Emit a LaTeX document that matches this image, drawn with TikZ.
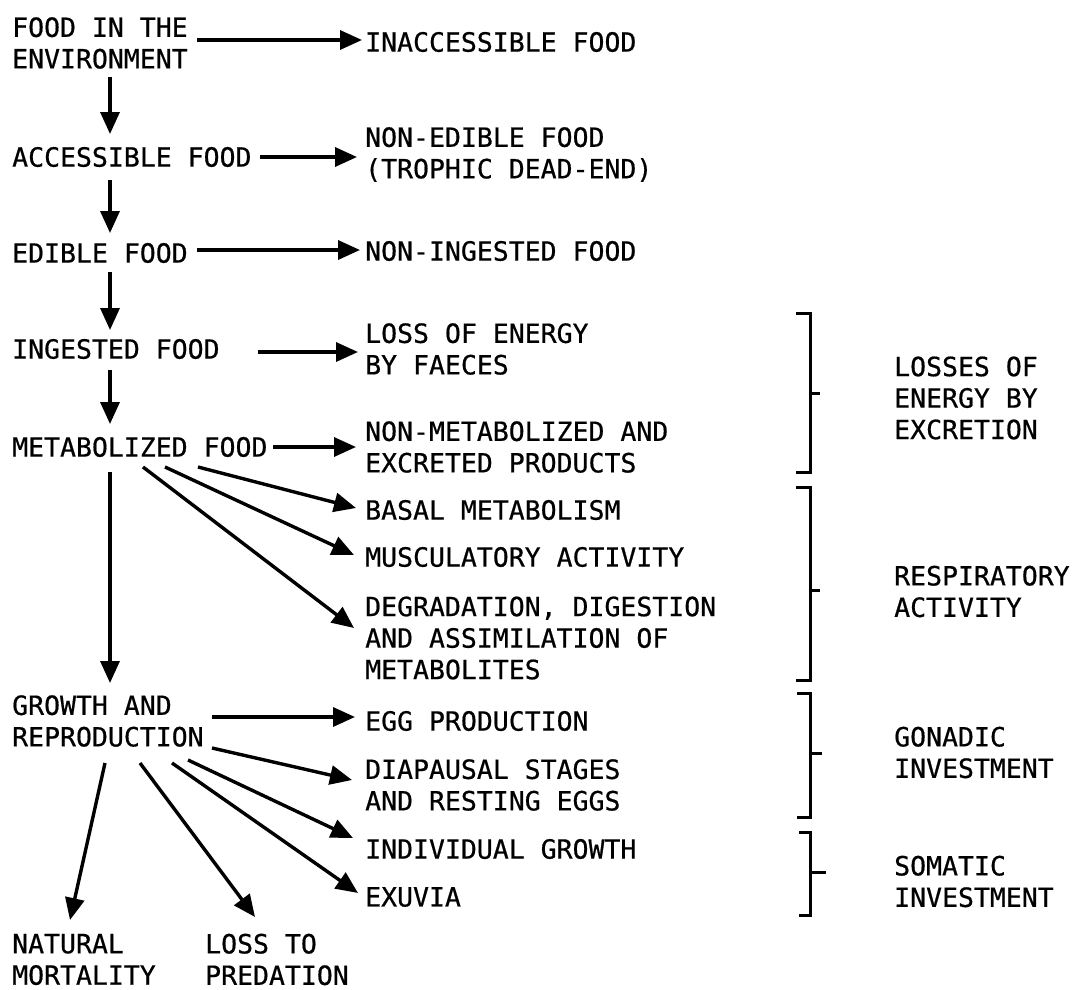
\documentclass[tikz,border=0pt]{standalone}
\usepackage{fontspec}
\newfontfamily\typew[FakeBold=0.6]{DejaVu Sans Mono}
\usetikzlibrary{arrows.meta,calc}
\begin{document}
\begin{tikzpicture}[x=1pt,y=-1pt,
  lbl/.style={anchor=west,inner sep=0pt,align=left,font=\typew\fontsize{26.5}{31.5}\selectfont},
  arr/.style={line width=3.4pt,-{Triangle[length=22pt,width=19pt]}},
  brk/.style={line width=3pt,line cap=butt,line join=miter}]
\useasboundingbox (0,0) rectangle (1074,990);
% left column
\node[lbl] (food) at (12,43) {FOOD IN THE\\ENVIRONMENT};
\node[lbl] (acc) at (12,157) {ACCESSIBLE FOOD};
\node[lbl] (edible) at (12,253) {EDIBLE FOOD};
\node[lbl] (ing) at (12,349) {INGESTED FOOD};
\node[lbl] (met) at (12,447) {METABOLIZED FOOD};
\node[lbl] (grow) at (12,721) {GROWTH AND\\REPRODUCTION};
\node[lbl] (nat) at (12,959.5) {NATURAL\\MORTALITY};
\node[lbl] (pred) at (205,959.5) {LOSS TO\\PREDATION};
% middle column
\node[lbl] (inacc) at (365,42) {INACCESSIBLE FOOD};
\node[lbl] (nonedible) at (365,154.5) {NON-EDIBLE FOOD\\(TROPHIC DEAD-END)};
\node[lbl] (noning) at (365,251) {NON-INGESTED FOOD};
\node[lbl] (faeces) at (365,349) {LOSS OF ENERGY\\BY FAECES};
\node[lbl] (nonmet) at (365,447) {NON-METABOLIZED AND\\EXCRETED PRODUCTS};
\node[lbl] (basal) at (365,510) {BASAL METABOLISM};
\node[lbl] (musc) at (365,557) {MUSCULATORY ACTIVITY};
\node[lbl] (degrad) at (365,638) {DEGRADATION, DIGESTION\\AND ASSIMILATION OF\\METABOLITES};
\node[lbl] (egg) at (365,721) {EGG PRODUCTION};
\node[lbl] (diap) at (365,785) {DIAPAUSAL STAGES\\AND RESTING EGGS};
\node[lbl] (indiv) at (365,849) {INDIVIDUAL GROWTH};
\node[lbl] (exuv) at (365,897) {EXUVIA};
% right column
\node[lbl] (losses) at (894,398) {LOSSES OF\\ENERGY BY\\EXCRETION};
\node[lbl] (resp) at (894,591.5) {RESPIRATORY\\ACTIVITY};
\node[lbl] (gonad) at (894,752.5) {GONADIC\\INVESTMENT};
\node[lbl] (somat) at (894,881.5) {SOMATIC\\INVESTMENT};
% arrows
\draw[arr] ($(food.west)+(185,-3)$) -- ($(inacc.west)+(-3,-2)$);
\draw[arr] ($(food.west)+(98,34)$) -- ($(acc.west)+(98,-23)$);
\draw[arr] ($(acc.west)+(248,0)$) -- ($(nonedible.west)+(-8,2.5)$);
\draw[arr] ($(acc.west)+(98,23)$) -- ($(edible.west)+(98,-20)$);
\draw[arr] ($(edible.west)+(185,-3)$) -- ($(noning.west)+(-5,-1)$);
\draw[arr] ($(edible.west)+(98,19)$) -- ($(ing.west)+(98,-19)$);
\draw[arr] ($(ing.west)+(246,3)$) -- ($(faeces.west)+(-7,3)$);
\draw[arr] ($(ing.west)+(98,21)$) -- ($(met.west)+(98,-23)$);
\draw[arr] ($(met.west)+(261,0)$) -- ($(nonmet.west)+(-9,0)$);
\draw[arr] ($(met.west)+(186,20)$) -- ($(basal.west)+(-9,-2)$);
\draw[arr] ($(met.west)+(153,20)$) -- ($(musc.west)+(-11,-2)$);
\draw[arr] ($(met.west)+(131,20)$) -- ($(degrad.west)+(-11,-10)$);
\draw[arr] ($(met.west)+(98,25)$) -- ($(grow.west)+(98,-38)$);
\draw[arr] ($(grow.west)+(200,-4)$) -- ($(egg.west)+(-10,-4)$);
\draw[arr] ($(grow.west)+(200,27)$) -- ($(diap.west)+(-13,-5)$);
\draw[arr] ($(grow.west)+(176,39)$) -- ($(indiv.west)+(-12,-11)$);
\draw[arr] ($(grow.west)+(160,42)$) -- ($(exuv.west)+(-7,-4)$);
\draw[arr] ($(grow.west)+(93,42)$) -- ($(nat.west)+(58,-39.5)$);
\draw[arr] ($(grow.west)+(128,42)$) -- ($(pred.west)+(50,-42.5)$);
% brackets
\draw[brk] (796,313) -- (810,313) -- (810,472) -- (796,472);
\draw[brk] (810,393) -- (820,393);
\draw[brk] (796,487) -- (810,487) -- (810,680) -- (796,680);
\draw[brk] (810,590) -- (820,590);
\draw[brk] (797,693) -- (810,693) -- (810,817) -- (797,817);
\draw[brk] (810,753) -- (822,753);
\draw[brk] (799,832) -- (810,832) -- (810,915) -- (799,915);
\draw[brk] (810,872) -- (826,872);
\end{tikzpicture}
\end{document}
